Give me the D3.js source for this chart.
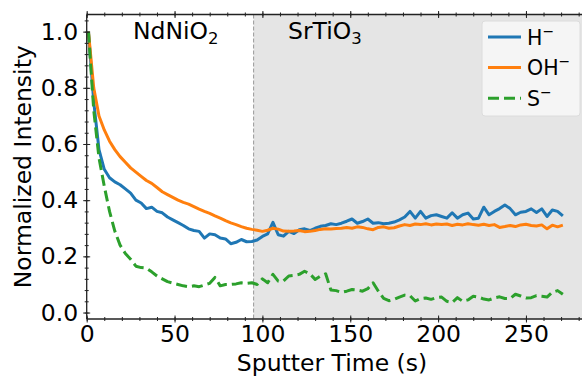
<!DOCTYPE html>
<html>
<head>
<meta charset="utf-8">
<script src="https://cdn.jsdelivr.net/npm/d3@7"></script>
<style>
  body { margin: 0; background: #fff; }
  text { font-family: "DejaVu Sans", sans-serif; fill: #000; }
</style>
</head>
<body>
<svg id="chart" width="582" height="377"></svg>
<script>
// sputter time (s)
const time = [1,4,7,10,13,16,19,22,25,28,31,34,37,40,43,46,49,52,55,58,61,64,67,70,73,76,79,82,85,88,
  91,94,97,100,103,106,109,112,115,118,121,124,127,130,133,136,139,142,145,148,151,154,157,160,163,166,169,172,175,178,
  181,184,187,190,193,196,199,202,205,208,211,214,217,220,223,226,229,232,235,238,241,244,247,250,253,256,259,262,265,268,271];

const hydride = [1.0,0.75,0.58,0.51,0.48,0.465,0.455,0.44,0.425,0.40,0.39,0.37,0.375,0.36,0.355,0.34,0.33,0.32,0.31,0.298,
  0.292,0.289,0.265,0.28,0.277,0.265,0.262,0.245,0.25,0.26,0.252,0.253,0.258,0.271,0.28,0.321,0.277,0.272,0.289,0.281,
  0.295,0.298,0.292,0.30,0.307,0.31,0.316,0.313,0.318,0.325,0.333,0.318,0.324,0.333,0.318,0.32,0.316,0.318,0.322,0.33,
  0.34,0.36,0.336,0.36,0.336,0.345,0.348,0.342,0.336,0.355,0.336,0.348,0.354,0.333,0.336,0.375,0.348,0.36,0.37,0.383,
  0.37,0.348,0.357,0.36,0.369,0.356,0.369,0.342,0.365,0.36,0.344];

const hydroxide = [1.0,0.80,0.70,0.65,0.61,0.58,0.555,0.535,0.515,0.50,0.485,0.47,0.46,0.445,0.43,0.42,0.41,0.40,0.392,0.386,
  0.377,0.368,0.36,0.353,0.344,0.336,0.327,0.319,0.313,0.306,0.30,0.296,0.293,0.289,0.293,0.30,0.297,0.29,0.289,0.29,
  0.292,0.288,0.289,0.292,0.296,0.298,0.297,0.299,0.30,0.303,0.30,0.305,0.303,0.298,0.295,0.303,0.305,0.30,0.302,0.308,
  0.313,0.31,0.315,0.313,0.316,0.312,0.315,0.313,0.315,0.31,0.314,0.312,0.316,0.313,0.311,0.314,0.31,0.313,0.303,0.306,
  0.31,0.306,0.312,0.314,0.31,0.308,0.312,0.298,0.311,0.305,0.311];

const sulfide = [1.0,0.72,0.55,0.45,0.36,0.29,0.24,0.21,0.19,0.165,0.16,0.158,0.145,0.13,0.12,0.11,0.105,0.10,0.095,0.092,
  0.095,0.092,0.098,0.104,0.125,0.095,0.10,0.10,0.102,0.106,0.104,0.106,0.10,0.12,0.106,0.136,0.112,0.112,0.13,0.132,
  0.136,0.147,0.138,0.118,0.13,0.138,0.08,0.078,0.072,0.076,0.082,0.08,0.076,0.085,0.106,0.076,0.05,0.042,0.047,0.055,
  0.062,0.06,0.041,0.05,0.052,0.047,0.053,0.055,0.04,0.036,0.053,0.04,0.045,0.058,0.055,0.048,0.045,0.052,0.056,0.05,
  0.05,0.065,0.059,0.052,0.053,0.06,0.058,0.055,0.072,0.078,0.065];

const seriesNames = ["H", "OH", "S"];
const seriesColors = ["#1f77b4", "#ff7f0e", "#2ca02c"];
const xTicks = [0, 50, 100, 150, 200, 250];
const yTicks = [0.0, 0.2, 0.4, 0.6, 0.8, 1.0];
const interfaceTime = 95;

const svg = d3.select('#chart');
const padLeft = 86.7, padTop = 14.5, padBottom = 319;
const fontSize = 23.5;

const x = d3.scaleLinear().domain([0, 284]).range([padLeft, padLeft + 284 * 1.757]);
const y = d3.scaleLinear().domain([-0.023, 1.061]).range([padBottom, padTop]);

svg.append('defs').append('clipPath').attr('id', 'plot')
  .append('rect').attr('x', padLeft).attr('y', padTop)
  .attr('width', x(284) - padLeft).attr('height', padBottom - padTop);

// substrate region
svg.append('rect')
  .attr('x', x(interfaceTime)).attr('y', padTop)
  .attr('width', x(284) - x(interfaceTime)).attr('height', padBottom - padTop)
  .attr('fill', '#e5e5e5');

svg.append('line')
  .attr('x1', x(interfaceTime)).attr('x2', x(interfaceTime))
  .attr('y1', padTop).attr('y2', padBottom)
  .attr('stroke', '#999').attr('stroke-width', 1).attr('stroke-dasharray', '4,2');

const plot = svg.append('g').attr('clip-path', 'url(#plot)');
const line = d3.line().x((d, i) => x(time[i])).y(d => y(d));

[hydride, hydroxide, sulfide].forEach((vals, k) => {
  plot.append('path')
    .datum(vals)
    .attr('d', line)
    .attr('fill', 'none')
    .attr('stroke', seriesColors[k])
    .attr('stroke-width', 3)
    .attr('stroke-linejoin', 'round')
    .attr('stroke-dasharray', k === 2 ? '11,5' : null);
});

// axes, ticks drawn "inout" by shifting the tick groups
function tickAxis(axis, len) {
  return axis.tickSize(len).tickSizeOuter(0);
}
const xMinor = d3.range(0, 290, 10);
const yMinor = d3.range(0, 1.07, 0.04);

svg.append('g').attr('transform', `translate(0,${padBottom - 2})`)
  .call(tickAxis(d3.axisBottom(x).tickValues(xMinor).tickFormat(''), 4));
const gxb = svg.append('g').attr('transform', `translate(0,${padBottom - 3.5})`)
  .call(tickAxis(d3.axisBottom(x).tickValues(xTicks).tickFormat(d3.format('d')), 7));
gxb.selectAll('text').attr('y', 10).attr('dy', '0.72em')
  .attr('font-size', fontSize).attr('font-family', 'DejaVu Sans').attr('fill', '#000');

svg.append('g').attr('transform', `translate(0,${padTop - 2})`)
  .call(tickAxis(d3.axisBottom(x).tickValues(xMinor).tickFormat(''), 4));
svg.append('g').attr('transform', `translate(0,${padTop - 3.5})`)
  .call(tickAxis(d3.axisBottom(x).tickValues(xTicks).tickFormat(''), 7));

svg.append('g').attr('transform', `translate(${padLeft + 2},0)`)
  .call(tickAxis(d3.axisLeft(y).tickValues(yMinor).tickFormat(''), 4));
const gyl = svg.append('g').attr('transform', `translate(${padLeft + 3.5},0)`)
  .call(tickAxis(d3.axisLeft(y).tickValues(yTicks).tickFormat(d3.format('.1f')), 7));
gyl.selectAll('text').attr('x', -12)
  .attr('font-size', fontSize).attr('font-family', 'DejaVu Sans').attr('fill', '#000');

svg.selectAll('.domain').remove();
svg.selectAll('.tick line').attr('stroke', '#222').attr('stroke-width', 1);

// spines
svg.append('line').attr('x1', padLeft).attr('x2', 582).attr('y1', padBottom).attr('y2', padBottom)
  .attr('stroke', '#222').attr('stroke-width', 1.3);
svg.append('line').attr('x1', padLeft).attr('x2', 582).attr('y1', padTop).attr('y2', padTop)
  .attr('stroke', '#222').attr('stroke-width', 1.3);
svg.append('line').attr('x1', padLeft).attr('x2', padLeft).attr('y1', padTop).attr('y2', padBottom)
  .attr('stroke', '#222').attr('stroke-width', 1.3);

// labels
svg.append('text').attr('x', 332).attr('y', 370.5).attr('text-anchor', 'middle')
  .attr('font-size', fontSize).text('Sputter Time (s)');
svg.append('text').attr('transform', `translate(31,${(padTop + padBottom) / 2}) rotate(-90)`)
  .attr('text-anchor', 'middle').attr('font-size', fontSize).text('Normalized Intensity');

function formula(xp, base, sub) {
  const t = svg.append('text').attr('x', xp).attr('y', 39).attr('font-size', fontSize);
  t.append('tspan').text(base);
  t.append('tspan').attr('dy', 5).attr('font-size', 16.5).text(sub);
}
formula(133, 'NdNiO', '2');
formula(288, 'SrTiO', '3');

// legend
const lg = svg.append('g');
lg.append('rect').attr('x', 482).attr('y', 21).attr('width', 98).attr('height', 95)
  .attr('rx', 3).attr('fill', '#f8f8f8').attr('fill-opacity', 0.85)
  .attr('stroke', '#dcdcdc').attr('stroke-width', 1);
seriesNames.forEach((name, k) => {
  const yy = 37 + k * 30.6;
  lg.append('line').attr('x1', 488).attr('x2', 521).attr('y1', yy).attr('y2', yy)
    .attr('stroke', seriesColors[k]).attr('stroke-width', 3)
    .attr('stroke-dasharray', k === 2 ? '11,5' : null);
  const t = lg.append('text').attr('x', 527).attr('y', yy + 7.5).attr('font-size', 20.5);
  t.append('tspan').text(name);
  t.append('tspan').attr('dy', -9).attr('font-size', 14).text('\u2212');
});
</script>
</body>
</html>
